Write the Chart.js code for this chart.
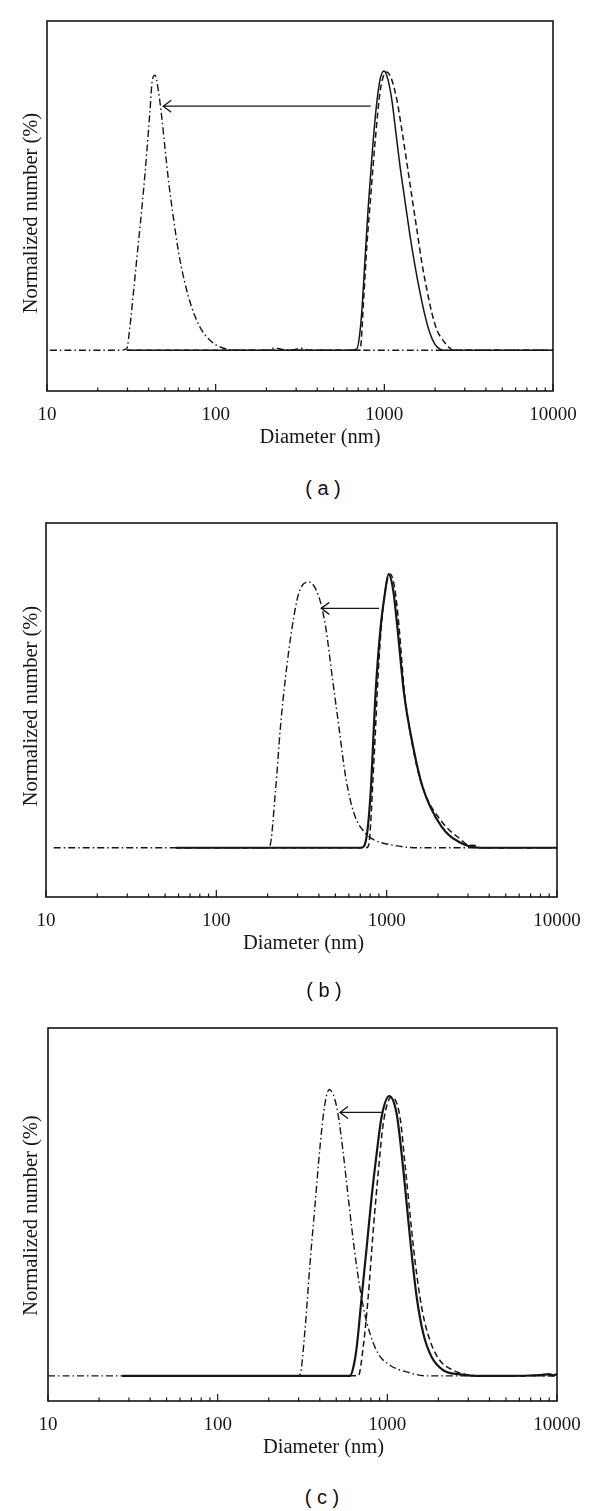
<!DOCTYPE html>
<html>
<head>
<meta charset="utf-8">
<script src="https://cdn.jsdelivr.net/npm/chart.js@4.4.0/dist/chart.umd.min.js"></script>
<style>
  body { margin: 0; background: #fff; width: 600px; height: 1511px; position: relative; overflow: hidden; }
  .panel { position: absolute; left: 0; width: 600px; height: 470px; }
  canvas { display: block; }
  .cap { position: absolute; transform: translate(-50%, -50%); white-space: pre;
         font-family: "Liberation Sans", Arial, sans-serif; font-size: 20px; color: #111; }
</style>
</head>
<body>
<div class="panel" style="top:0"><canvas id="ga" width="600" height="470"></canvas></div>
<div class="panel" style="top:500px"><canvas id="gb" width="600" height="470"></canvas></div>
<div class="panel" style="top:1000px"><canvas id="gc" width="600" height="470"></canvas></div>
<div class="cap" style="left:323px;top:488px">( a )</div>
<div class="cap" style="left:324px;top:990px">( b )</div>
<div class="cap" style="left:322px;top:1497px">( c )</div>
<script>
// eixo x (diametro, escala log)
const xTickValues = [10, 100, 1000, 10000]
const xMinorSteps = [2, 3, 4, 5, 6, 7, 8, 9]
const xTitle = "Diameter (nm)"
const yTitle = "Normalized number (%)"

// (a) - diametro (nm) e numero normalizado
const aSolidD = [29.7, 625, 688, 712, 736, 767, 800, 841, 892, 942, 995, 1050, 1109, 1172, 1237, 1324, 1418, 1518, 1626, 1741, 1864, 1996, 2137, 2288, 10000]
const aSolidN = [0, 0, 0.5, 5, 14.3, 32, 50, 68, 86, 96.7, 100, 97, 89.5, 77.7, 66.2, 53.7, 41.2, 30.4, 20.8, 12.5, 6.1, 2.1, 0.4, 0, 0]
const aDashD = [29.7, 717, 757, 789, 834, 881, 948, 1032, 1109, 1188, 1271, 1361, 1458, 1561, 1671, 1790, 1916, 2051, 2225, 2383, 2552, 10000]
const aDashN = [0, 0, 20, 38, 56.6, 74.4, 93.4, 99.6, 96.7, 89.5, 78.8, 67, 54.8, 43, 31.1, 21.5, 13.2, 7.2, 3.6, 1.4, 0, 0]
const aDotD = [10.4, 27.1, 29.7, 31.0, 32.5, 34.0, 35.6, 37.2, 39.0, 40.8, 42.1, 43.7, 45.7, 47.9, 50.0, 52.8, 56.1, 60.0, 65.1, 72.0, 80.7, 92.5, 106, 121.6, 139, 200, 225, 250, 290, 320, 360, 10000]
const aDotN = [0, 0, 0.6, 8.3, 20.3, 32.2, 44.2, 56.1, 70.4, 85.9, 96.7, 98.5, 93.1, 83.5, 72.7, 59.6, 47.7, 35.8, 25.1, 15.5, 8.3, 3.6, 1.2, 0.2, 0, 0, 0.8, 0.3, 0.2, 0.7, 0, 0]
const aArrow = [830, 48.9, 87.4] // de, para, altura

// (b)
const bSolidD = [58, 700, 735, 770, 805, 861, 922, 973, 1026, 1092, 1155, 1264, 1416, 1622, 2095, 2718, 3524, 10000]
const bSolidN = [0, 0, 0.5, 6, 20, 56.6, 80.8, 92.3, 100, 94.2, 80.8, 56.5, 38.3, 22.4, 7.8, 1.8, 0, 0]
const bDashD = [58, 760, 784, 842, 901, 964, 1050, 1114, 1177, 1276, 1422, 1629, 2109, 2723, 2993, 3300, 3571, 10000]
const bDashN = [0, 0, 1, 32, 68.6, 90.5, 100, 95, 82, 56, 37, 22, 9.5, 3, 1.1, 0.8, 0, 0]
const bDotD = [11.1, 200, 206, 222, 238, 255, 279, 305, 349, 400, 438, 479, 524, 574, 642, 735, 842, 1056, 1516, 10000]
const bDotN = [0, 0, 0.5, 20, 44.3, 62.5, 80.8, 93.1, 97.2, 91.7, 80.8, 62.5, 44.3, 26, 12.7, 5.9, 2.9, 1.1, 0, 0]
const bArrow = [902, 413, 87.5]

// (c)
const cSolidD = [27.3, 602, 630, 660, 706, 756, 808, 865, 925, 1026, 1134, 1214, 1300, 1391, 1489, 1629, 1824, 2135, 2679, 3283, 5000, 8000, 9000, 9500, 10000]
const cSolidN = [0, 0, 3, 10.3, 28.2, 46.1, 64, 79.5, 92.6, 100, 93.8, 79.5, 61.6, 43.7, 28.2, 15.1, 6.7, 2, 0.5, 0, 0, 0.3, 0.6, 0.2, 0.6]
const cDashD = [27.3, 674, 721, 771, 826, 883, 946, 1059, 1187, 1270, 1359, 1455, 1592, 1782, 2042, 2446, 2930, 3514, 10000]
const cDashN = [0, 0, 10.3, 28.2, 52.1, 72.3, 90.2, 99.7, 92.6, 75.9, 58, 41.3, 24.6, 12.7, 5.5, 2, 0.4, 0, 0]
const cDotD = [10, 290, 305, 327, 350, 374, 401, 429, 455, 503, 538, 576, 616, 660, 722, 790, 884, 1035, 1300, 1706, 10000]
const cDotN = [0, 0, 0.3, 16.3, 40.1, 60.4, 81.9, 97.4, 102.4, 96.2, 84.3, 68.8, 53.2, 38.9, 24.6, 15.1, 7.9, 3.8, 1.4, 0, 0]
const cArrow = [925, 526, 94.2]

const ink = "#161616"
const serif = "'Liberation Serif', 'Times New Roman', serif"

function pontos(d, n) {
    return d.map((v, i) => ({ x: v, y: n[i] }))
}

// moldura, ticks internos, seta e titulos dos eixos
const extras = {
    id: "extras",
    afterDatasetsDraw(chart, args, opts) {
        const ctx = chart.ctx
        const a = chart.chartArea
        const xs = chart.scales.x
        const ys = chart.scales.y
        ctx.save()
        ctx.strokeStyle = ink
        ctx.lineWidth = 1.6
        ctx.strokeRect(a.left, a.top, a.right - a.left, a.bottom - a.top)
        ctx.lineWidth = 1.2
        ctx.beginPath()
        for (let dec of xTickValues) {
            let px = xs.getPixelForValue(dec)
            ctx.moveTo(px, a.bottom)
            ctx.lineTo(px, a.bottom - 7)
            if (dec >= 10000) continue
            for (let m of xMinorSteps) {
                let mx = xs.getPixelForValue(dec * m)
                ctx.moveTo(mx, a.bottom)
                ctx.lineTo(mx, a.bottom - 3.5)
            }
        }
        ctx.stroke()
        // seta
        let [de, para, alt] = opts.arrow
        let x1 = xs.getPixelForValue(de), x2 = xs.getPixelForValue(para), y = ys.getPixelForValue(alt)
        ctx.lineWidth = 1.3
        ctx.beginPath()
        ctx.moveTo(x1, y)
        ctx.lineTo(x2, y)
        ctx.moveTo(x2 + 8, y - 6)
        ctx.lineTo(x2, y)
        ctx.lineTo(x2 + 8, y + 6)
        ctx.stroke()
        // titulos
        ctx.fillStyle = ink
        ctx.font = "20.5px " + serif
        ctx.textAlign = "center"
        ctx.textBaseline = "middle"
        ctx.fillText(xTitle, (a.left + a.right) / 2 + opts.dx, a.bottom + 46.5)
        ctx.translate(31.5, (a.top + a.bottom) / 2 + opts.dy)
        ctx.rotate(-Math.PI / 2)
        ctx.fillText(yTitle, 0, 0)
        ctx.restore()
    }
}

function makeChart(id, box, ymin, ymax, series, arrow, dx, dy, grossa) {
    let H = document.getElementById(id).height
    return new Chart(document.getElementById(id), {
        type: "line",
        data: {
            datasets: [
                { data: pontos(series[0], series[1]), borderColor: ink, borderWidth: grossa },
                { data: pontos(series[2], series[3]), borderColor: ink, borderWidth: 1.5, borderDash: [6, 3.5] },
                { data: pontos(series[4], series[5]), borderColor: ink, borderWidth: 1.4, borderDash: [7, 3, 1.5, 3] }
            ]
        },
        options: {
            responsive: false,
            animation: false,
            devicePixelRatio: 1,
            layout: { padding: { left: box.left, right: 600 - box.right, top: box.top, bottom: 0 } },
            elements: {
                point: { radius: 0 },
                line: { cubicInterpolationMode: "monotone", fill: false }
            },
            plugins: {
                legend: { display: false },
                tooltip: { enabled: false },
                extras: { arrow: arrow, dx: dx, dy: dy }
            },
            scales: {
                x: {
                    type: "logarithmic",
                    min: 10,
                    max: 10000,
                    grid: { display: false },
                    border: { display: false },
                    afterBuildTicks: s => { s.ticks = xTickValues.map(v => ({ value: v })) },
                    afterFit: s => { s.height = H - box.bottom },
                    ticks: {
                        autoSkip: false,
                        maxRotation: 0,
                        padding: 5,
                        color: ink,
                        font: { family: serif, size: 19 },
                        callback: v => String(v)
                    }
                },
                y: { display: false, min: ymin, max: ymax }
            }
        },
        plugins: [extras]
    })
}

makeChart("ga", { left: 47, right: 553, top: 21, bottom: 391 }, -14.6, 117.9,
    [aSolidD, aSolidN, aDashD, aDashN, aDotD, aDotN], aArrow, 20, 7, 1.5)
makeChart("gb", { left: 46, right: 557, top: 23, bottom: 397 }, -18, 118.7,
    [bSolidD, bSolidN, bDashD, bDashN, bDotD, bDotN], bArrow, 2, -4, 2.2)
makeChart("gc", { left: 48, right: 557, top: 28, bottom: 401 }, -9, 124.4,
    [cSolidD, cSolidN, cDashD, cDashN, cDotD, cDotN], cArrow, 21, 1, 2.2)
</script>
</body>
</html>
